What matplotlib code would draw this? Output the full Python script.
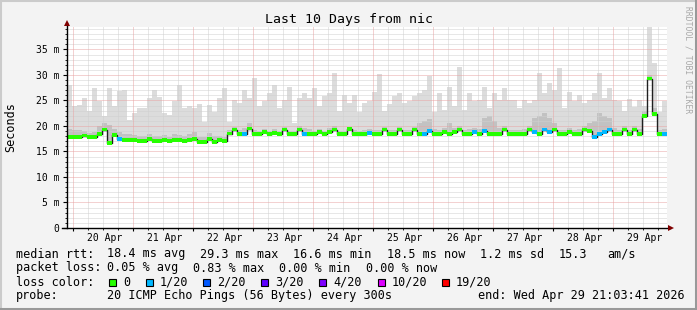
import matplotlib
matplotlib.use("Agg")
import matplotlib.pyplot as plt
import numpy as np
from matplotlib.lines import Line2D
from matplotlib.patches import Rectangle

W, H = 697, 310
MONO = "DejaVu Sans Mono"

# ---------------- data (2-hour bins, 10 days) ----------------
day_labels = ["20 Apr", "21 Apr", "22 Apr", "23 Apr", "24 Apr",
              "25 Apr", "26 Apr", "27 Apr", "28 Apr", "29 Apr"]

smoke_top = [
    28.0, 24.0, 24.1, 25.4, 23.0, 27.4, 24.8, 22.0, 27.4, 24.0,
    26.8, 27.0, 21.2, 22.5, 23.5, 23.5, 25.5, 27.0, 25.7, 22.5,
    22.2, 24.8, 28.0, 23.5, 24.0, 23.5, 24.4, 20.8, 24.1, 22.8,
    25.5, 27.5, 20.8, 25.1, 24.5, 27.1, 25.5, 29.4, 24.0, 24.8,
    26.5, 28.0, 23.5, 25.1, 27.7, 20.5, 25.5, 26.5, 25.5, 27.5,
    24.0, 25.8, 26.5, 30.3, 23.0, 26.0, 24.5, 26.0, 22.8, 24.5,
    24.8, 26.6, 30.1, 23.0, 24.4, 25.8, 26.4, 24.5, 24.8, 25.8,
    26.5, 27.1, 29.8, 22.8, 26.5, 23.2, 27.7, 24.0, 31.5, 23.2,
    26.4, 24.8, 25.1, 27.7, 23.5, 26.4, 25.0, 27.5, 25.0, 25.0,
    23.5, 25.1, 24.5, 25.1, 30.3, 26.4, 28.5, 27.1, 31.3, 23.5,
    26.6, 24.8, 26.0, 24.5, 25.1, 26.5, 30.3, 25.5, 27.4, 25.0,
    24.8, 23.0, 25.2, 23.8, 25.0, 24.0, 39.5, 32.3, 22.8, 24.8,
]

smoke_dense = [
    19.5, 19.3, 19.2, 19.0, 18.6, 18.8, 20.0, 20.5, 20.2, 19.5,
    18.8, 18.5, 18.4, 18.3, 18.0, 18.0, 18.5, 18.0, 18.1, 18.3,
    17.9, 18.4, 18.3, 18.0, 18.4, 18.8, 17.9, 17.9, 18.6, 18.0,
    18.0, 17.8, 19.2, 19.8, 19.2, 19.6, 20.5, 19.2, 19.1, 19.4,
    19.1, 19.4, 19.0, 19.8, 19.1, 19.0, 19.9, 19.6, 19.5, 19.0,
    19.4, 19.1, 19.6, 20.0, 19.1, 19.1, 19.8, 19.2, 19.0, 19.2,
    19.5, 19.2, 19.2, 19.8, 19.2, 19.2, 19.8, 19.3, 19.2, 19.8,
    20.5, 21.0, 21.3, 19.5, 19.2, 19.6, 20.5, 19.6, 20.0, 19.2,
    19.4, 19.6, 19.4, 21.5, 22.0, 21.0, 19.6, 20.0, 19.2, 19.2,
    19.2, 19.4, 20.0, 21.5, 22.0, 22.5, 21.5, 20.5, 19.3, 19.2,
    19.6, 19.3, 19.4, 20.0, 20.5, 21.0, 22.5, 22.0, 21.5, 19.6,
    19.2, 20.0, 19.3, 20.0, 19.4, 23.0, 30.0, 23.5, 19.2, 19.4,
]

median = [
    17.9, 17.9, 17.8, 18.1, 17.8, 17.8, 18.4, 19.3, 16.6, 18.2,
    17.4, 17.3, 17.2, 17.3, 17.1, 17.1, 17.4, 17.1, 17.1, 17.3,
    17.0, 17.3, 17.2, 17.0, 17.2, 17.5, 16.9, 16.9, 17.4, 16.9,
    17.2, 17.0, 18.5, 19.3, 18.4, 18.4, 19.5, 18.4, 18.4, 18.8,
    18.4, 18.6, 18.4, 19.3, 18.4, 18.4, 19.3, 18.4, 18.4, 18.4,
    18.8, 18.4, 18.8, 19.3, 18.4, 18.4, 19.4, 18.4, 18.4, 18.4,
    18.6, 18.4, 18.4, 19.3, 18.4, 18.4, 19.3, 18.4, 18.4, 19.3,
    18.4, 18.4, 19.0, 18.4, 18.4, 18.8, 18.4, 18.8, 19.3, 18.4,
    18.4, 18.8, 18.4, 19.0, 18.4, 18.4, 18.4, 19.3, 18.4, 18.4,
    18.4, 18.4, 19.3, 18.8, 18.4, 19.3, 18.8, 19.3, 18.4, 18.4,
    18.8, 18.4, 18.4, 19.3, 19.0, 17.9, 18.4, 18.8, 19.3, 18.4,
    18.4, 19.3, 18.4, 19.3, 18.4, 22.0, 29.3, 22.4, 18.4, 18.4,
]

loss = [
    0, 0, 0, 0, 0, 0, 0, 0, 0, 0,
    1, 0, 0, 0, 0, 0, 0, 0, 0, 0,
    0, 0, 0, 0, 0, 0, 0, 0, 0, 0,
    0, 0, 0, 0, 0, 1, 0, 0, 0, 0,
    0, 0, 0, 0, 0, 0, 0, 1, 0, 0,
    0, 0, 0, 0, 0, 0, 0, 0, 0, 0,
    1, 0, 0, 0, 0, 0, 0, 0, 0, 0,
    0, 1, 1, 0, 0, 0, 0, 0, 0, 0,
    0, 1, 0, 1, 0, 0, 0, 0, 0, 0,
    0, 0, 0, 1, 0, 1, 1, 0, 0, 0,
    0, 0, 0, 0, 0, 1, 1, 1, 1, 0,
    0, 0, 0, 0, 0, 0, 0, 0, 0, 1,
]

loss_levels = [0, 1, 2, 3, 4, 10, 19]
loss_labels = ["0", "1/20", "2/20", "3/20", "4/20", "10/20", "19/20"]
loss_colors = ["#26ff00", "#00b8ff", "#0059ff", "#5e00ff", "#7e00ff", "#dd00ff", "#ff0000"]

stats_rtt = ["18.4 ms avg", "29.3 ms max", "16.6 ms min", "18.5 ms now", "1.2 ms sd", "15.3", "am/s"]
stats_loss = ["0.05 % avg", "0.83 % max", "0.00 % min", "0.00 % now"]
probe_text = "20 ICMP Echo Pings (56 Bytes) every 300s"
end_text = "end: Wed Apr 29 21:03:41 2026"

# ---------------- figure ----------------
fig = plt.figure(figsize=(W / 100, H / 100), dpi=100, facecolor="#f3f3f3")


def fx(x):
    return x / W


def fy(y):
    return 1 - y / H


# 3D-ish border
fig.add_artist(Line2D([0, 1], [fy(0.5), fy(0.5)], color="#cbcbcb", lw=1.5))
fig.add_artist(Line2D([fx(0.5), fx(0.5)], [0, 1], color="#cbcbcb", lw=1.5))
fig.add_artist(Line2D([0, 1], [fy(H - 1), fy(H - 1)], color="#999999", lw=2.2))
fig.add_artist(Line2D([fx(W - 1), fx(W - 1)], [0, 1], color="#999999", lw=2.2))

x0, x1 = 67, 667
y_bot, y_top = 228, 27
ax = fig.add_axes([fx(x0), fy(y_bot), (x1 - x0) / W, (y_bot - y_top) / H])
ax.set_facecolor("white")
XMIN, XMAX = -0.1, 9.9
YMAX = 39.4
ax.set_xlim(XMIN, XMAX)
ax.set_ylim(0, YMAX)

n = len(median)
step = (XMAX - XMIN) / n
edges = XMIN + np.arange(n + 1) * step
lefts = edges[:-1]
med = np.array(median)
top = np.array(smoke_top)
dense = np.array(smoke_dense)

# smoke
ax.fill_between(edges, np.append(med, med[-1]), np.append(top, top[-1]),
                step="post", color="#dcdcdc", lw=0, zorder=1)
ax.fill_between(edges, np.append(med, med[-1]), np.append(dense, dense[-1]),
                step="post", color="#c2c2c2", lw=0, zorder=1.1)

# grid (drawn over smoke)
for v in np.arange(0, YMAX, 1.0):
    if abs(v % 5) < 1e-6:
        continue
    ax.axhline(v, color="#d0d0d0", lw=0.72, ls=(0, (1, 1)), zorder=1.5)
for v in np.arange(0, 10, 0.25):
    if abs(v % 1) < 1e-6:
        continue
    ax.axvline(v, color="#d0d0d0", lw=0.72, ls=(0, (1, 1)), zorder=1.5)
for v in np.arange(5, YMAX, 5):
    ax.axhline(v, color="#e8a4a4", lw=0.72, ls=(0, (1, 1)), zorder=1.6)
for v in range(0, 10):
    ax.axvline(v, color="#e8a4a4", lw=0.72, ls=(0, (1, 1)), zorder=1.6)

# median line (black) and loss-coloured band
ax.step(edges, np.append(med, med[-1]), where="post", color="#202020", lw=1.0, zorder=3)
band = 0.36
col_map = dict(zip(loss_levels, loss_colors))
bar_colors = [col_map[l] for l in loss]
ax.bar(lefts, 2 * band, width=step, bottom=med - band, align="edge",
       color=bar_colors, linewidth=0, zorder=3.5)

# axes styling
for s in ["top", "right", "left", "bottom"]:
    ax.spines[s].set_visible(False)
ax.plot([0, 0], [0, 1.02], transform=ax.transAxes, color="black", lw=1, clip_on=False, zorder=5)
ax.plot([-0.008, 1.005], [0, 0], transform=ax.transAxes, color="black", lw=1, clip_on=False, zorder=5)
ax.plot([0], [1 + 3.5 / 201], transform=ax.transAxes, marker="^", ms=4.5, color="#800000",
        clip_on=False, zorder=6, mew=0)
ax.plot([1 + 4 / 600], [0], transform=ax.transAxes, marker=">", ms=4.5, color="#800000",
        clip_on=False, zorder=6, mew=0)

yt = list(range(0, 36, 5))
ax.set_yticks(yt)
ax.set_yticklabels(["0"] + ["%d m" % v for v in yt[1:]], family=MONO, fontsize=7)
ax.set_yticks(np.arange(0, YMAX, 1.0), minor=True)
ax.tick_params(axis="y", which="major", length=3, width=0.8, pad=2.5, color="black")
ax.tick_params(axis="y", which="minor", length=1.5, width=0.6, color="black")

ax.set_xticks(range(0, 10))
ax.set_xticklabels([])
ax.set_xticks(np.arange(-0.0, 9.9, 0.25), minor=True)
ax.tick_params(axis="x", which="major", length=2.5, width=0.8, color="black")
ax.tick_params(axis="x", which="minor", length=1.2, width=0.6, color="black")
for i, lab in enumerate(day_labels):
    ax.text(i + 0.53, -10 / 5.1, lab, ha="center", va="center", family=MONO, fontsize=7,
            clip_on=False)

# titles
fig.text(fx(349), fy(20), "Last 10 Days from nic", ha="center", va="center", family=MONO, fontsize=9.5)
fig.text(fx(11), fy(127), "Seconds", ha="center", va="center", rotation=90, family=MONO, fontsize=8.5)
fig.text(fx(688), fy(60), "RRDTOOL / TOBI OETIKER", ha="center", va="center", rotation=270,
         family=MONO, fontsize=5.8, color="#a8a8a8")

# legend
FS = 8.5
fig.text(fx(16), fy(254), "median rtt:", family=MONO, fontsize=FS, va="center")
for xp, t in zip([107, 200, 293, 387, 480, 559, 607], stats_rtt):
    fig.text(fx(xp), fy(254), t, family=MONO, fontsize=FS, va="center")
fig.text(fx(16), fy(268), "packet loss:", family=MONO, fontsize=FS, va="center")
for xp, t in zip([107, 193, 279, 366], stats_loss):
    fig.text(fx(xp), fy(268), t, family=MONO, fontsize=FS, va="center")
fig.text(fx(16), fy(282), "loss color:", family=MONO, fontsize=FS, va="center")
box_x = [109, 146, 203, 261, 319, 378, 442]
for bx, lab, c in zip(box_x, loss_labels, loss_colors):
    fig.add_artist(Rectangle((fx(bx), fy(286)), 7 / W, 7 / H, facecolor=c, edgecolor="black", lw=0.8))
    fig.text(fx(bx + 14), fy(282), lab, family=MONO, fontsize=FS, va="center")
fig.text(fx(16), fy(296), "probe:", family=MONO, fontsize=FS, va="center")
fig.text(fx(107), fy(296), probe_text, family=MONO, fontsize=FS, va="center")
fig.text(fx(478), fy(296), end_text, family=MONO, fontsize=FS, va="center")

fig.savefig("out.png", dpi=100, facecolor=fig.get_facecolor())
